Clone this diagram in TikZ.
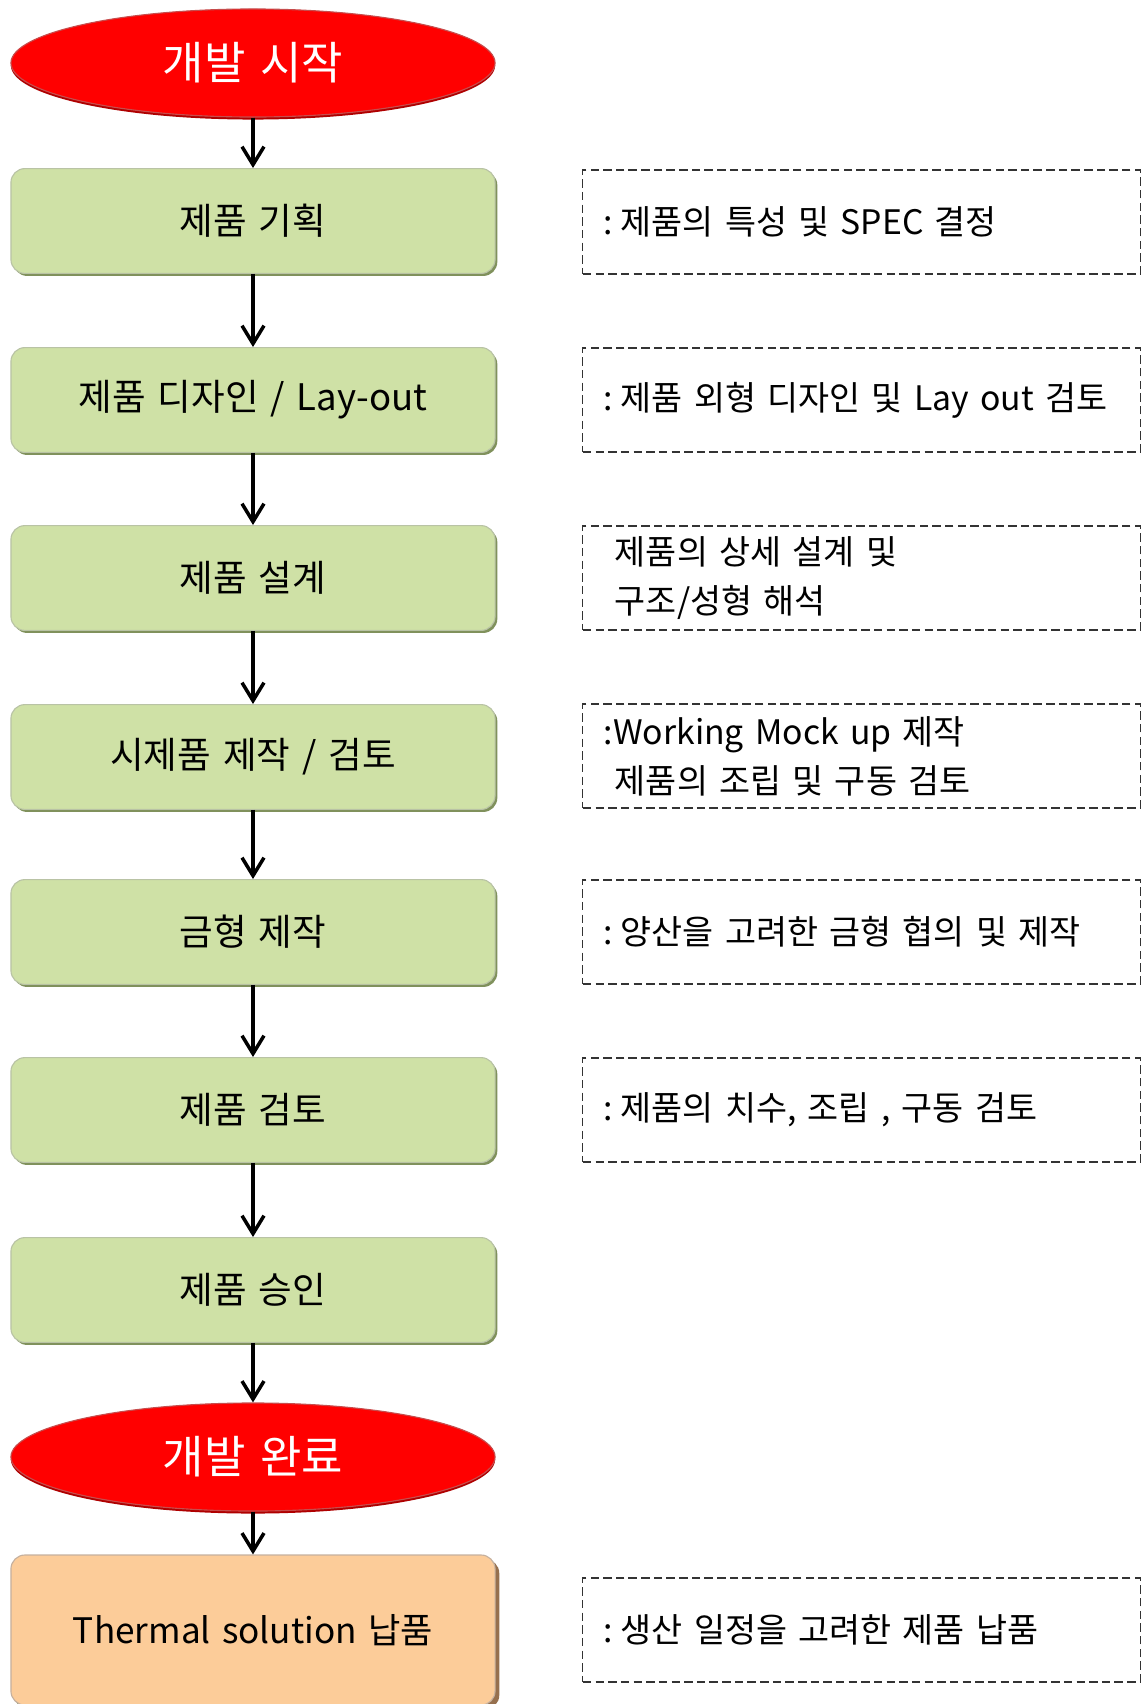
\documentclass[tikz,border=0pt]{standalone}
\usepackage{fontspec}
\setmainfont{Noto Sans CJK KR}[WordSpace=1.45]
\usetikzlibrary{arrows.meta,positioning,shapes.geometric}
\definecolor{stagegreen}{RGB}{207,225,166}
\definecolor{stageedge}{RGB}{128,145,92}
\definecolor{termred}{RGB}{255,0,0}
\definecolor{termedge}{RGB}{175,0,0}
\definecolor{shippeach}{RGB}{252,204,153}
\definecolor{shipedge}{RGB}{150,112,78}

\begin{document}
\begin{tikzpicture}[x=0.025cm, y=-0.025cm,
	stage/.style={rectangle, rounded corners=0.35cm, fill=stagegreen, draw=stageedge!55, line width=0.8pt, minimum width=12.1cm, minimum height=2.62cm, font=\fontsize{26}{31}\selectfont, preaction={fill=stageedge, transform canvas={xshift=1.6pt, yshift=-1.8pt}}},
	terminal/.style={ellipse, fill=termred, draw=termedge!70, line width=0.8pt, minimum width=12.1cm, minimum height=2.7cm, text=white, font=\fontsize{32}{38}\selectfont, preaction={fill=termedge, transform canvas={yshift=-1.8pt}}},
	note/.style={rectangle, draw=black!80, dash pattern=on 6pt off 3pt, line width=0.8pt, minimum width=13.925cm, minimum height=2.6cm, text width=12.875cm, inner xsep=0.525cm, align=left, font=\fontsize{24}{35}\selectfont},
	flow/.style={-{Straight Barb[length=4.5mm,width=5.5mm]}, line width=2.5pt}]
		\useasboundingbox (0,0) rectangle (1142,1704);

		\node[terminal] (start) at (253,63) {개발 시작};
		\node[stage] (plan) at (253,221) {제품 기획};
		\node[stage] (design) at (253,400) {제품 디자인 / Lay-out};
		\node[stage] (detail) at (253,578) {제품 설계};
		\node[stage] (proto) at (253,757) {시제품 제작 / 검토};
		\node[stage] (mold) at (253,932) {금형 제작};
		\node[stage] (review) at (253,1110) {제품 검토};
		\node[stage] (approve) at (253,1290) {제품 승인};
		\node[terminal] (finish) at (253,1457) {개발 완료};
		\node[stage, fill=shippeach, draw=shipedge!55, minimum height=3.75cm, font=\fontsize{25}{30}\selectfont, preaction={fill=shipedge, transform canvas={xshift=3pt, yshift=-3pt}}] (ship) at (253,1630) {Thermal solution 납품};

		\foreach \from/\to in {start/plan, plan/design, design/detail, detail/proto, proto/mold, mold/review, review/approve, approve/finish, finish/ship}
			\draw[flow] (\from) -- (\to);

		\node[note] (planNote) at (861.5,222) {:\hspace{0.22em}제품의 특성 및 SPEC 결정};
		\node[note] (designNote) at (861.5,400) {:\hspace{0.22em}제품 외형 디자인 및 Lay out 검토};
		\node[note] (detailNote) at (861.5,578) {\hspace*{0.275cm}제품의 상세 설계 및\\\hspace*{0.275cm}구조/성형 해석};
		\node[note] (protoNote) at (861.5,756) {:Working Mock up 제작\\\hspace*{0.275cm}제품의 조립 및 구동 검토};
		\node[note] (moldNote) at (861.5,932) {:\hspace{0.22em}양산을 고려한 금형 협의 및 제작};
		\node[note] (reviewNote) at (861.5,1110) {:\hspace{0.22em}제품의 치수, 조립 , 구동 검토};
		\node[note] (shipNote) at (861.5,1630) {:\hspace{0.22em}생산 일정을 고려한 제품 납품};
	\end{tikzpicture}
\end{document}
